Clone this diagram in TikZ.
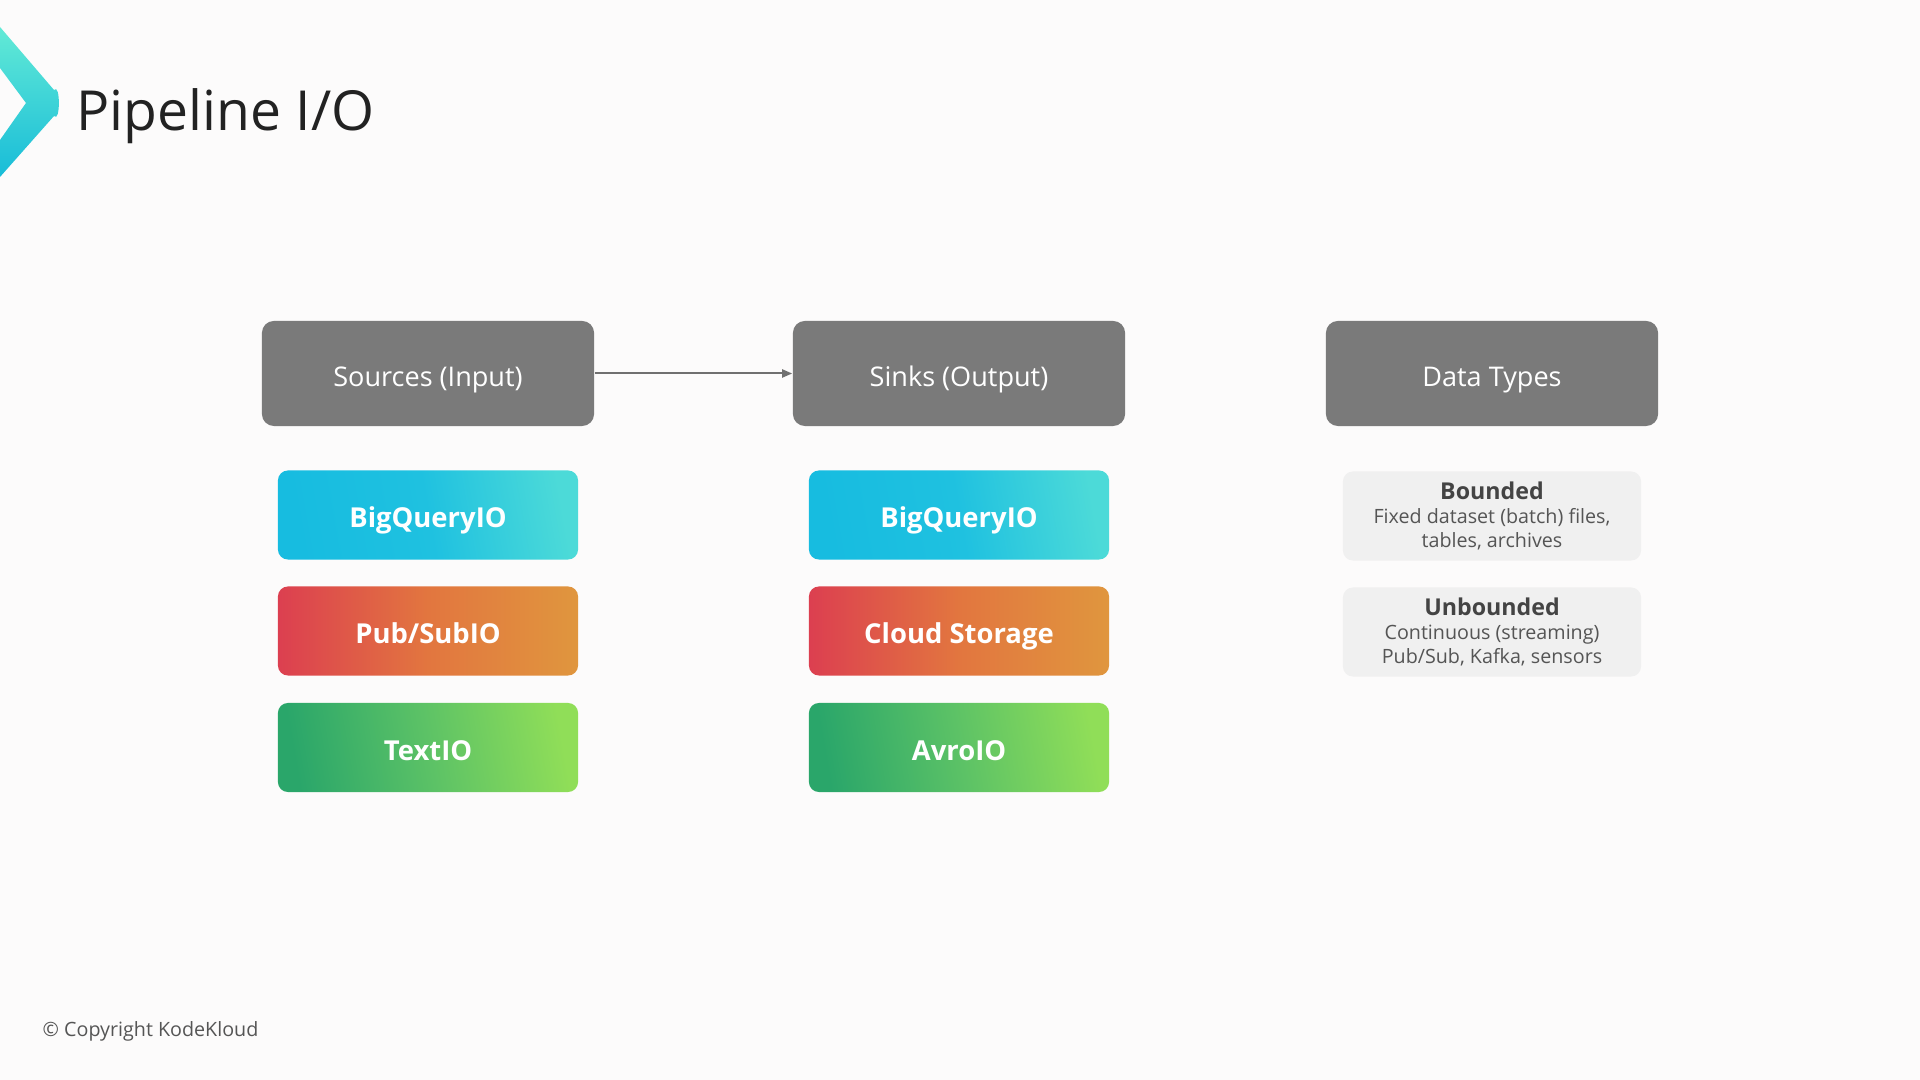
\documentclass[tikz,border=0pt]{standalone}
\usepackage{fontspec}
\setmainfont{Open Sans}
\usetikzlibrary{arrows.meta}
\definecolor{bg}{HTML}{FCFBFB}
\definecolor{hdrgray}{HTML}{7A7A7A}
\definecolor{arrowgray}{HTML}{707070}
\definecolor{dtfill}{HTML}{F0F0F0}
\definecolor{dtbold}{HTML}{444444}
\definecolor{dttext}{HTML}{555555}
\definecolor{titlecol}{HTML}{222222}
\definecolor{cyanA}{HTML}{17BCE0}
\definecolor{cyanB}{HTML}{1FC1E0}
\definecolor{cyanC}{HTML}{4CDAD8}
\definecolor{redA}{HTML}{DC3F50}
\definecolor{redB}{HTML}{E2763F}
\definecolor{redC}{HTML}{E0963E}
\definecolor{grnA}{HTML}{2AA66A}
\definecolor{grnB}{HTML}{5CC266}
\definecolor{grnC}{HTML}{90DE58}
\definecolor{logoA}{HTML}{62EAD6}
\definecolor{logoB}{HTML}{18BCD8}
\tikzset{
  hdr/.style={fill=hdrgray, rounded corners=0.12cm, text=white, inner sep=0pt,
    minimum width=3.32cm, minimum height=1.05cm, text height=0.72em, text depth=0pt,
    font=\fontsize{7.7}{9}\selectfont},
  iobox/.style={rounded corners=0.1cm, text=white, inner sep=0pt,
    minimum width=3.0cm, minimum height=0.89cm, text height=0.72em, text depth=0pt,
    font=\fontsize{7.8}{9}\selectfont\bfseries},
  cyanbox/.style={iobox, left color=cyanA, right color=cyanC, middle color=cyanB, shading angle=100},
  redbox/.style={iobox, left color=redA, right color=redC, middle color=redB},
  grnbox/.style={iobox, left color=grnA, right color=grnC, middle color=grnB, shading angle=100},
  dtbox/.style={fill=dtfill, rounded corners=0.1cm, inner sep=0pt, align=center,
    minimum width=2.98cm, minimum height=0.89cm, text=dttext,
    font=\fontsize{5.6}{6.9}\selectfont},
  flow/.style={draw=arrowgray, line width=0.02cm, -{Triangle[length=0.1cm,width=0.08cm]}}
}
\begin{document}
\begin{tikzpicture}[x=0.01cm,y=-0.01cm]
\fill[bg] (0,0) rectangle (1920,1080);
\useasboundingbox (0,0) rectangle (1920,1080);
% logo
\shade[top color=logoA, bottom color=logoB]
  (0,27) -- (54,90) to[out=50,in=-50] (54,116) -- (0,177) -- (0,140) -- (26,103) -- (0,68) -- cycle;
\node[anchor=base west, text=titlecol, inner sep=0pt, font=\fontsize{15.7}{18}\selectfont] (title) at (76,131) {Pipeline I/O};
% headers
\node[hdr] (src) at (428,373.5) {Sources (Input)};
\node[hdr] (snk) at (959,373.5) {Sinks (Output)};
\node[hdr] (dt) at (1492,373.5) {Data Types};
\draw[flow] (src.east) -- (snk.west);
% sources
\node[cyanbox] (s1) at (428,515) {BigQueryIO};
\node[redbox] (s2) at (428,631) {Pub/SubIO};
\node[grnbox] (s3) at (428,747.5) {TextIO};
% sinks
\node[cyanbox] (k1) at (959,515) {BigQueryIO};
\node[redbox] (k2) at (959,631) {Cloud Storage};
\node[grnbox] (k3) at (959,747.5) {AvroIO};
% data types
\node[dtbox] (d1) at (1492,516) {{\fontsize{6.6}{7.5}\selectfont\bfseries\color{dtbold}Bounded}\\Fixed dataset (batch) files,\\tables, archives};
\node[dtbox] (d2) at (1492,632) {{\fontsize{6.6}{7.5}\selectfont\bfseries\color{dtbold}Unbounded}\\Continuous (streaming)\\Pub/Sub, Kafka, sensors};
% footer
\node[anchor=west, text=dttext, inner sep=0pt, font=\fontsize{5.6}{7}\selectfont] (copy) at (42,1031) {© Copyright KodeKloud};
\end{tikzpicture}
\end{document}
